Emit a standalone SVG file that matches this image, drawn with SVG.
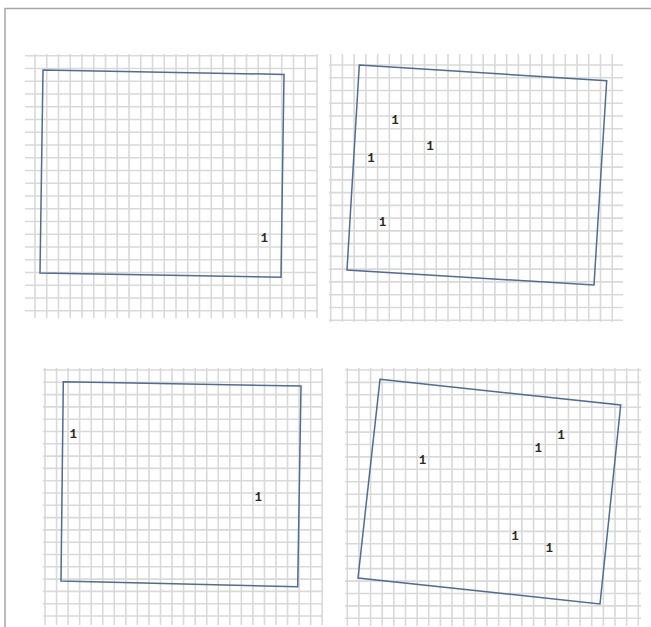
<svg xmlns="http://www.w3.org/2000/svg" width="651" height="627" viewBox="0 0 651 627">
<style>
.grid{fill:none;stroke:#d9d9d9;stroke-width:1.6}
.box{fill:none;stroke:#4f6b97;stroke-width:1.5;stroke-linejoin:miter}
.frame{fill:none;stroke:#a6a6a6;stroke-width:1.5}
.lbl{font-family:"Liberation Mono","DejaVu Sans Mono",monospace;font-weight:bold;font-size:12px;fill:#2b2a20;text-anchor:middle;dominant-baseline:central}
</style>
<rect width="651" height="627" fill="#ffffff"/>
<path class="frame" d="M5 627V8.5H651"/>
<g id="panel1">
<path class="grid" d="M35 54V318M46.75 54V318M58.5 54V318M70.25 54V318M82 54V318M93.75 54V318M105.5 54V318M117.25 54V318M129 54V318M140.75 54V318M152.5 54V318M164.25 54V318M176 54V318M187.75 54V318M199.5 54V318M211.25 54V318M223 54V318M234.75 54V318M246.5 54V318M258.25 54V318M270 54V318M281.75 54V318M293.5 54V318M305.25 54V318M317 54V318
M25 55.7H318M25 68.45H318M25 81.2H318M25 93.95H318M25 106.7H318M25 119.45H318M25 132.2H318M25 144.95H318M25 157.7H318M25 170.45H318M25 183.2H318M25 195.95H318M25 208.7H318M25 221.45H318M25 234.2H318M25 246.95H318M25 259.7H318M25 272.45H318M25 285.2H318M25 297.95H318M25 310.7H318"/>
<polygon class="box" points="43,70 284,74.4 281,277.3 40,273"/>
<text class="lbl" x="264.3" y="239.3">1</text>
</g>
<g id="panel2">
<path class="grid" d="M330.7 54V322M342.43 54V322M354.16 54V322M365.89 54V322M377.62 54V322M389.35 54V322M401.08 54V322M412.81 54V322M424.54 54V322M436.27 54V322M448 54V322M459.73 54V322M471.46 54V322M483.19 54V322M494.92 54V322M506.65 54V322M518.38 54V322M530.11 54V322M541.84 54V322M553.57 54V322M565.3 54V322M577.03 54V322M588.76 54V322M600.49 54V322M612.22 54V322
M329 65H623M329 77.76H623M329 90.52H623M329 103.28H623M329 116.04H623M329 128.8H623M329 141.56H623M329 154.32H623M329 167.08H623M329 179.84H623M329 192.6H623M329 205.36H623M329 218.12H623M329 230.88H623M329 243.64H623M329 256.4H623M329 269.16H623M329 281.92H623M329 294.68H623M329 307.44H623M329 320.2H623"/>
<polygon class="box" points="359.3,65 606.7,80.7 594,285 347,270"/>
<text class="lbl" x="395" y="121">1</text>
<text class="lbl" x="430" y="146.7">1</text>
<text class="lbl" x="371" y="159.3">1</text>
<text class="lbl" x="382.7" y="222.7">1</text>
</g>
<g id="panel3">
<path class="grid" d="M45 368V625M56.55 368V625M68.1 368V625M79.65 368V625M91.2 368V625M102.75 368V625M114.3 368V625M125.85 368V625M137.4 368V625M148.95 368V625M160.5 368V625M172.05 368V625M183.6 368V625M195.15 368V625M206.7 368V625M218.25 368V625M229.8 368V625M241.35 368V625M252.9 368V625M264.45 368V625M276 368V625M287.55 368V625M299.1 368V625M310.65 368V625M322.2 368V625
M43 370H323M43 382.3H323M43 394.6H323M43 406.9H323M43 419.2H323M43 431.5H323M43 443.8H323M43 456.1H323M43 468.4H323M43 480.7H323M43 493H323M43 505.3H323M43 517.6H323M43 529.9H323M43 542.2H323M43 554.5H323M43 566.8H323M43 579.1H323M43 591.4H323M43 603.7H323M43 616H323"/>
<polygon class="box" points="63.3,381.7 301,386 297.7,586.7 61,581"/>
<text class="lbl" x="73.3" y="435">1</text>
<text class="lbl" x="258.3" y="498.3">1</text>
</g>
<g id="panel4">
<path class="grid" d="M347.3 368V626M358.94 368V626M370.58 368V626M382.22 368V626M393.86 368V626M405.5 368V626M417.14 368V626M428.78 368V626M440.42 368V626M452.06 368V626M463.7 368V626M475.34 368V626M486.98 368V626M498.62 368V626M510.26 368V626M521.9 368V626M533.54 368V626M545.18 368V626M556.82 368V626M568.46 368V626M580.1 368V626M591.74 368V626M603.38 368V626M615.02 368V626M626.66 368V626M638.3 368V626
M345 370H641M345 382.4H641M345 394.8H641M345 407.2H641M345 419.7H641M345 432.1H641M345 444.5H641M345 456.9H641M345 469.3H641M345 481.7H641M345 494.2H641M345 506.6H641M345 519H641M345 531.4H641M345 543.8H641M345 556.2H641M345 568.6H641M345 581.1H641M345 593.5H641M345 605.9H641M345 618.3H641"/>
<polygon class="box" points="380,379.3 620.7,405 600,604 358,578"/>
<text class="lbl" x="422.7" y="460.7">1</text>
<text class="lbl" x="561" y="436">1</text>
<text class="lbl" x="538.3" y="449">1</text>
<text class="lbl" x="515" y="536.7">1</text>
<text class="lbl" x="549.3" y="549">1</text>
</g>
</svg>
